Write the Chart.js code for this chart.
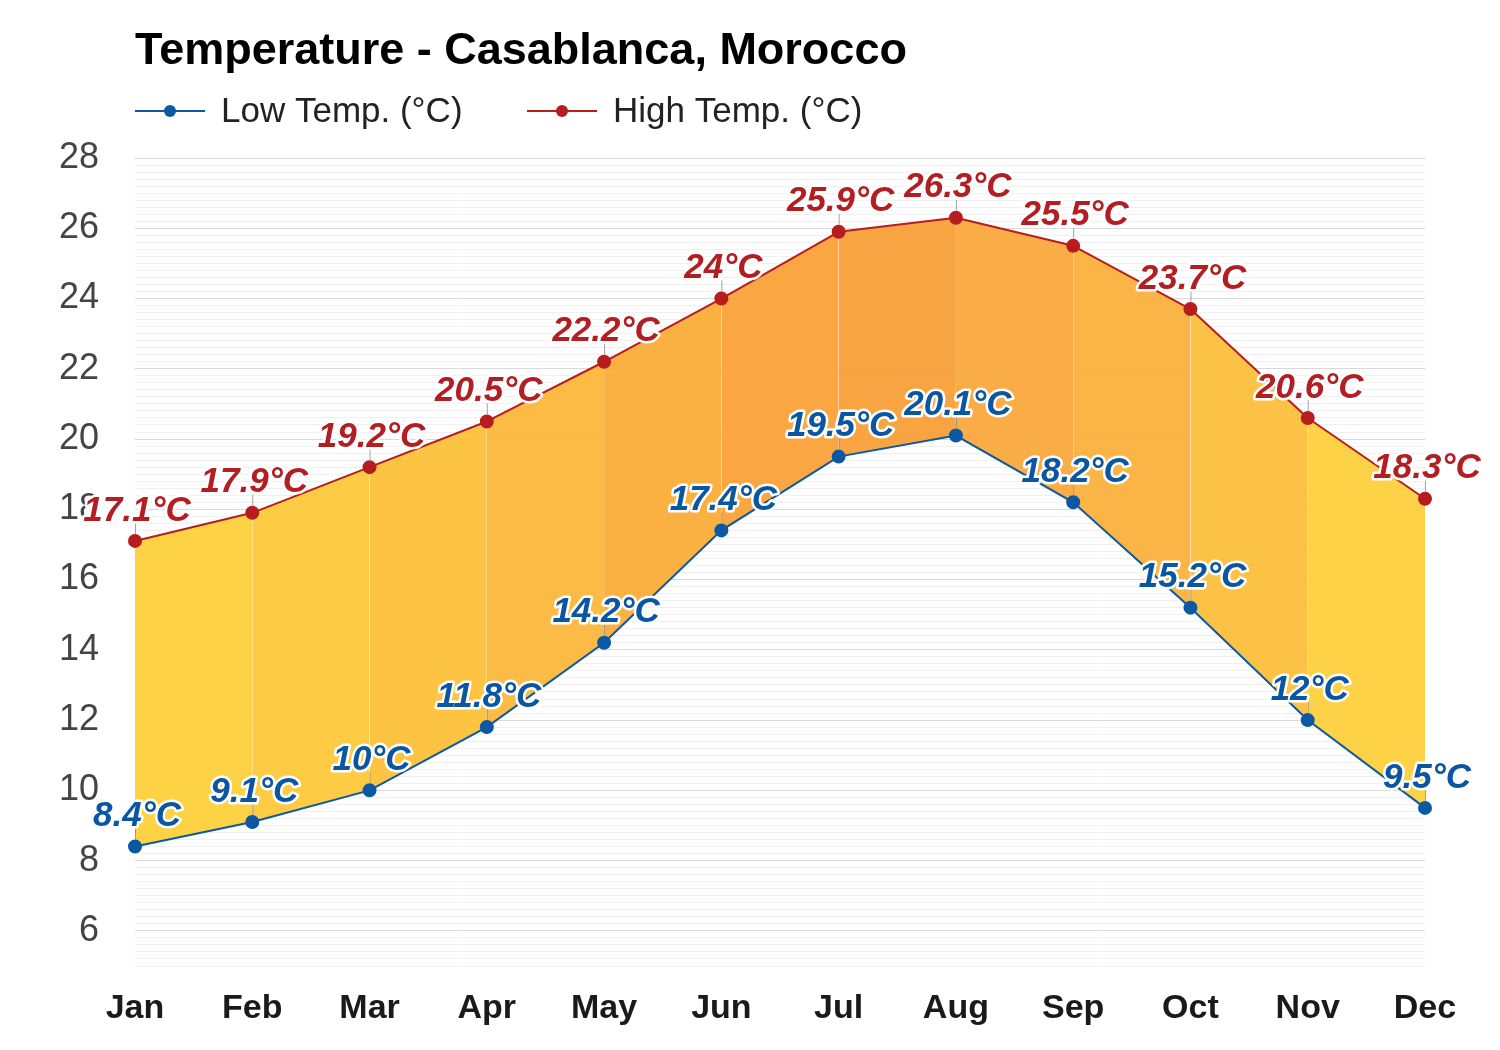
<!DOCTYPE html>
<html>
<head>
<meta charset="utf-8">
<script src="https://cdn.jsdelivr.net/npm/chart.js@4/dist/chart.umd.min.js"></script>
<style>
  html, body { margin: 0; padding: 0; background: #ffffff; }
  #wrap { width: 1500px; height: 1050px; }
</style>
</head>
<body>
<div id="wrap"><canvas id="c" width="1500" height="1050"></canvas></div>
<script>
// ---- Data ----
const months = ['Jan','Feb','Mar','Apr','May','Jun','Jul','Aug','Sep','Oct','Nov','Dec'];
const lowTemps = [8.4, 9.1, 10, 11.8, 14.2, 17.4, 19.5, 20.1, 18.2, 15.2, 12, 9.5];
const highTemps = [17.1, 17.9, 19.2, 20.5, 22.2, 24, 25.9, 26.3, 25.5, 23.7, 20.6, 18.3];
const yTickLabels = [6, 8, 10, 12, 14, 16, 18, 20, 22, 24, 26, 28];
const seriesNames = ['Low Temp. (°C)', 'High Temp. (°C)'];
const chartTitle = 'Temperature - Casablanca, Morocco';

// ---- Styles ----
const FONT = '"Liberation Sans", Arial, Helvetica, sans-serif';
const lowColor = '#0c58a3';
const highColor = '#b71c1f';
const segmentTargets = ['#fdd244','#fdcb44','#fdc444','#fcbb44','#fbb042','#faa642','#f9a443','#faac47','#fbb446','#fcc246','#fdd246'];
function toAlpha(hex, a) {
  const r = parseInt(hex.slice(1,3),16), g = parseInt(hex.slice(3,5),16), b = parseInt(hex.slice(5,7),16);
  const f = v => Math.max(0, Math.min(255, Math.round((v - (1 - a) * 255) / a)));
  return `rgba(${f(r)},${f(g)},${f(b)},${a})`;
}
const segmentFills = segmentTargets.map(c => toAlpha(c, 0.93));

// ---- Plugins ----
const headerPlugin = {
  id: 'header',
  afterDraw(chart) {
    const ctx = chart.ctx;
    const left = chart.chartArea.left;
    ctx.save();
    ctx.fillStyle = '#000';
    ctx.font = `bold 45px ${FONT}`;
    ctx.textAlign = 'left';
    ctx.textBaseline = 'alphabetic';
    ctx.fillText(chartTitle, left, 64);

    const items = [
      { x: left, color: lowColor, text: seriesNames[0] },
      { x: left + 392, color: highColor, text: seriesNames[1] }
    ];
    const ly = 111;
    items.forEach(it => {
      ctx.strokeStyle = it.color;
      ctx.lineWidth = 2;
      ctx.beginPath();
      ctx.moveTo(it.x, ly);
      ctx.lineTo(it.x + 70, ly);
      ctx.stroke();
      ctx.fillStyle = it.color;
      ctx.beginPath();
      ctx.arc(it.x + 35, ly, 6, 0, Math.PI * 2);
      ctx.fill();
      ctx.fillStyle = '#222';
      ctx.font = `35px ${FONT}`;
      ctx.textBaseline = 'middle';
      ctx.fillText(it.text, it.x + 86, ly + 1);
    });
    ctx.restore();
  }
};

const labelPlugin = {
  id: 'pointLabels',
  afterDatasetsDraw(chart) {
    const ctx = chart.ctx;
    ctx.save();
    chart.data.datasets.forEach((ds, di) => {
      const meta = chart.getDatasetMeta(di);
      const color = di === 0 ? '#0b56a2' : '#b31e22';
      meta.data.forEach((pt, i) => {
        const x = pt.x, y = pt.y;
        ctx.strokeStyle = 'rgba(140,140,140,0.8)';
        ctx.lineWidth = 1;
        ctx.beginPath();
        ctx.moveTo(x + 0.5, y - 7);
        ctx.lineTo(x + 0.5, y - 18);
        ctx.stroke();
        const txt = ds.data[i] + '°C';
        ctx.font = `italic bold 35px ${FONT}`;
        ctx.textAlign = 'center';
        ctx.textBaseline = 'middle';
        ctx.lineJoin = 'round';
        ctx.lineWidth = 5;
        ctx.strokeStyle = '#ffffff';
        ctx.strokeText(txt, x + 2, y - 30);
        ctx.fillStyle = color;
        ctx.fillText(txt, x + 2, y - 30);
      });
    });
    ctx.restore();
  }
};

const isMajor = v => yTickLabels.some(t => Math.abs(t - v) < 1e-6);

new Chart(document.getElementById('c'), {
  type: 'line',
  data: {
    labels: months,
    datasets: [
      {
        label: seriesNames[0],
        data: lowTemps,
        borderColor: lowColor,
        backgroundColor: lowColor,
        pointBackgroundColor: lowColor,
        pointBorderColor: lowColor,
        borderWidth: 2,
        pointRadius: 6,
        pointHoverRadius: 6,
        tension: 0,
        fill: false
      },
      {
        label: seriesNames[1],
        data: highTemps,
        borderColor: highColor,
        backgroundColor: segmentFills[0],
        pointBackgroundColor: highColor,
        pointBorderColor: highColor,
        borderWidth: 2,
        pointRadius: 6,
        pointHoverRadius: 6,
        tension: 0,
        fill: '-1',
        segment: {
          backgroundColor: c => segmentFills[c.p0DataIndex]
        }
      }
    ]
  },
  options: {
    responsive: false,
    animation: false,
    devicePixelRatio: 1,
    layout: { padding: { top: 158, left: 0, right: 75, bottom: 0 } },
    plugins: {
      legend: { display: false },
      title: { display: false },
      tooltip: { enabled: false }
    },
    scales: {
      x: {
        type: 'category',
        offset: false,
        grid: { display: false, drawTicks: false },
        border: { display: false },
        ticks: {
          color: '#1a1a1a',
          font: { family: FONT, size: 34, weight: 'bold' },
          padding: 22,
          maxRotation: 0,
          autoSkip: false
        },
        afterFit(scale) { scale.height = 84; }
      },
      y: {
        type: 'linear',
        min: 5,
        max: 28,
        grid: {
          drawTicks: false,
          color: c => (c.tick && isMajor(c.tick.value)) ? '#d9d9d9' : '#f0f0f0',
          lineWidth: 1
        },
        border: { display: false },
        ticks: {
          stepSize: 0.2,
          maxTicksLimit: 500,
          autoSkip: false,
          padding: 36,
          color: '#444',
          font: { family: FONT, size: 36 },
          callback: v => isMajor(v) ? String(Math.round(v)) : ''
        },
        afterFit(scale) { scale.width = 135; }
      }
    }
  },
  plugins: [headerPlugin, labelPlugin]
});
</script>
</body>
</html>
